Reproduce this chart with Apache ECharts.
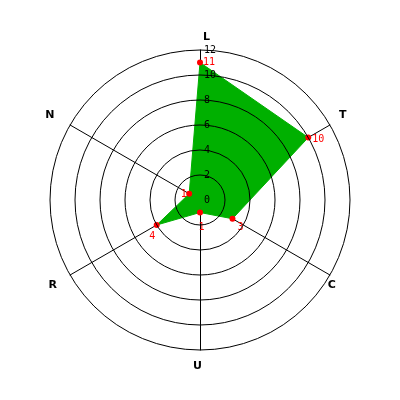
<!DOCTYPE html>
<html><head><meta charset="utf-8">
<script src="https://cdn.jsdelivr.net/npm/echarts@6/dist/echarts.min.js"></script>
<style>html,body{margin:0;padding:0;background:#fff}#c{width:400px;height:400px}</style>
</head><body><div id="c"></div>
<script>
const indicators = ['L', 'N', 'R', 'U', 'C', 'T'];
const values = [11, 1, 4, 1, 3, 10];
const axisMax = 12;
const axisStep = 2;

// label placement styles (per indicator): name gap + padding, data label padding
const nameGaps = [13, 20, 20, 16, 20, 20];
const namePads = [[0,0,0,13],[3,6,0,0],[13,0,0,0],[0,5,0,0],[10,31,0,0],[0,9,0,0]];
const valPads = [[0,0,0,18],[2,0,0,0],[23,0,0,0],[30,0,0,3],[18,0,0,16],[4,0,0,20]];
const valPadsNeg = [[0,0,0,0],[0,11,0,0],[0,9,0,0],[0,0,0,0],[0,0,0,0],[0,0,0,0]];

const rich = {};
valPads.forEach((p, i) => {
  rich['d' + i] = {
    color: '#ff0000', fontSize: 10, fontFamily: 'DejaVu Sans Mono',
    padding: [p[0] + valPadsNeg[i][0], p[1] + valPadsNeg[i][1], p[2], p[3]]
  };
});

const chart = echarts.init(document.getElementById('c'), null, {renderer: 'canvas'});
const common = {
  center: ['50%', '50%'],
  radius: 150,
  shape: 'circle',
  startAngle: 90,
  splitNumber: axisMax / axisStep,
  splitArea: {show: false},
  axisTick: {show: false}
};
chart.setOption({
  animation: false,
  radar: [
    Object.assign({}, common, {
      z: 1,
      indicator: indicators.map((n, i) => ({
        name: n, min: 0, max: axisMax, nameGap: nameGaps[i],
        nameTextStyle: {align: 'center', verticalAlign: 'middle', padding: namePads[i]}
      })),
      axisName: {color: '#000', fontWeight: 'bold', fontSize: 11, fontFamily: 'DejaVu Sans'},
      axisLine: {lineStyle: {color: '#000', width: 1}},
      splitLine: {show: false},
      axisLabel: {show: false}
    }),
    Object.assign({}, common, {
      z: 3,
      indicator: indicators.map((n, i) => ({
        name: n, min: 0, max: axisMax,
        axisLabel: i === 0 ? {show: true, color: '#000', fontSize: 10, fontFamily: 'DejaVu Sans Mono',
          margin: -4, align: 'left', verticalAlign: 'middle', showMinLabel: true, showMaxLabel: true} : {show: false}
      })),
      axisName: {show: false},
      axisLine: {show: false},
      splitLine: {lineStyle: {color: '#000', width: 1}},
      axisLabel: {show: false}
    })
  ],
  series: [{
    type: 'radar',
    radarIndex: 0,
    z: 2,
    symbol: 'circle',
    symbolSize: 6,
    itemStyle: {color: '#ff0000'},
    lineStyle: {color: '#00b000', width: 1},
    areaStyle: {color: '#00b000', opacity: 1},
    label: {
      show: true, position: 'inside',
      formatter: p => '{d' + p.dimensionIndex + '|' + p.value + '}',
      rich: rich
    },
    data: [{value: values}]
  }]
});
</script></body></html>
